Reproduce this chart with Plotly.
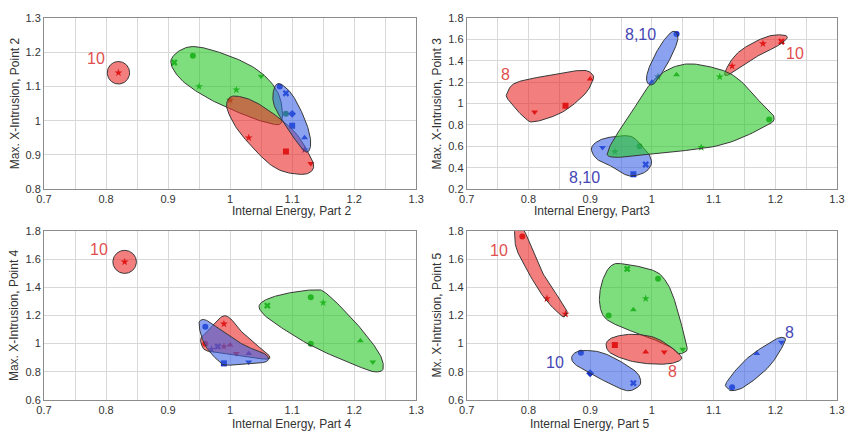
import numpy as np
import plotly.graph_objects as go

# ---------------------------------------------------------------------------
# Data: internal energy (x) vs. max. intrusion (y) for each design, by cluster
# ---------------------------------------------------------------------------

# Panel A  -  Part 2 / Point 2
A_RED1_X = [0.82]
A_RED1_Y = [1.14]
A_GREEN_X = [0.91, 0.94, 0.95, 1.01, 1.05]
A_GREEN_Y = [1.17, 1.19, 1.10, 1.09, 1.13]
A_GREEN_LOOSE_X = [1.09]
A_GREEN_LOOSE_Y = [1.02]
A_RED2_X = [1.00, 1.03, 1.09, 1.13]
A_RED2_Y = [1.06, 0.95, 0.91, 0.875]
A_BLUE_X = [1.08, 1.09, 1.10, 1.10, 1.12, 1.12]
A_BLUE_Y = [1.10, 1.08, 1.02, 0.985, 0.95, 0.915]

# Panel B  -  Part 3 / Point 3
B_RED8_X = [0.81, 0.86, 0.90]
B_RED8_Y = [0.92, 0.98, 1.23]
B_RED10_X = [1.13, 1.18, 1.21]
B_RED10_Y = [1.35, 1.56, 1.58]
B_BLUE_TOP_X = [1.04, 1.00]
B_BLUE_TOP_Y = [1.65, 1.20]
B_BLUE_LOW_X = [0.92, 0.97, 0.99]
B_BLUE_LOW_Y = [0.59, 0.34, 0.43]
B_GREEN_X = [0.94, 0.98, 1.01, 1.04, 1.11, 1.19, 1.08]
B_GREEN_Y = [0.55, 0.60, 1.25, 1.27, 1.25, 0.85, 0.59]

# Panel C  -  Part 4 / Point 4
C_RED1_X = [0.83]
C_RED1_Y = [1.58]
C_GREEN_X = [1.06, 1.13, 1.15, 1.13, 1.21, 1.23]
C_GREEN_Y = [1.27, 1.33, 1.29, 1.00, 1.02, 0.87]
C_RED_X = [0.99, 0.96, 0.99, 1.00, 1.01]
C_RED_Y = [1.14, 1.00, 0.98, 0.99, 0.93]
C_BLUE_X = [0.96, 0.97, 0.98, 0.99, 1.03, 1.03]
C_BLUE_Y = [1.12, 0.96, 0.98, 0.86, 0.93, 0.87]

# Panel D  -  Part 5 / Point 5
D_RED10_X = [0.79, 0.83, 0.86]
D_RED10_Y = [1.76, 1.32, 1.21]
D_GREEN_X = [0.96, 1.01, 0.99, 0.97, 0.93, 1.05]
D_GREEN_Y = [1.53, 1.46, 1.32, 1.24, 1.20, 0.96]
D_RED8_X = [0.94, 0.99, 1.02]
D_RED8_Y = [0.99, 0.94, 0.94]
D_BLUE10_X = [0.885, 0.90, 0.97]
D_BLUE10_Y = [0.935, 0.79, 0.72]
D_BLUE8_X = [1.13, 1.17, 1.21]
D_BLUE8_Y = [0.69, 0.93, 1.01]

# Cluster envelopes (closed outlines in data units, smoothed when drawn)
A_GREEN_HULL = [(0.905, 1.178), (0.936, 1.216), (0.99, 1.195), (1.045, 1.147),
                (1.078, 1.078), (1.083, 0.996), (1.060, 0.994), (1.016, 1.022),
                (0.962, 1.068), (0.920, 1.122)]
A_RED2_HULL = [(0.995, 1.055), (1.008, 1.072), (1.045, 1.05), (1.10, 0.975),
               (1.128, 0.90), (1.134, 0.86), (1.115, 0.843), (1.07, 0.865),
               (1.02, 0.955), (0.998, 1.02)]
A_BLUE_HULL = [(1.079, 1.108), (1.100, 1.076), (1.122, 0.997), (1.130, 0.935),
               (1.122, 0.909), (1.098, 0.962), (1.072, 1.040), (1.070, 1.088)]

B_RED8_HULL = [(0.765, 1.09), (0.778, 1.19), (0.82, 1.25), (0.885, 1.31),
               (0.904, 1.27), (0.903, 1.20), (0.89, 1.08), (0.855, 0.92),
               (0.812, 0.832), (0.795, 0.86), (0.768, 1.03)]
B_RED10_HULL = [(1.118, 1.282), (1.129, 1.406), (1.148, 1.514), (1.185, 1.623),
                (1.212, 1.642), (1.219, 1.61), (1.201, 1.53), (1.174, 1.453),
                (1.142, 1.328), (1.124, 1.267)]
B_BLUE_TOP_HULL = [(1.034, 1.675), (1.042, 1.60), (1.027, 1.391), (1.004, 1.189),
                   (0.992, 1.205), (0.995, 1.328), (1.014, 1.546)]
B_BLUE_LOW_HULL = [(0.902, 0.575), (0.912, 0.647), (0.934, 0.687), (0.966, 0.693),
                   (0.984, 0.60), (0.996, 0.52), (0.999, 0.43), (0.987, 0.352),
                   (0.962, 0.325), (0.94, 0.399), (0.912, 0.476)]
B_GREEN_HULL = [(0.935, 0.50), (1.00, 0.53), (1.11, 0.61), (1.185, 0.79),
                (1.198, 0.87), (1.185, 0.95), (1.14, 1.23), (1.10, 1.335),
                (1.05, 1.365), (1.005, 1.23), (0.965, 0.90), (0.932, 0.60)]

C_GREEN_HULL = [(1.047, 1.271), (1.061, 1.318), (1.093, 1.358), (1.135, 1.381),
                (1.156, 1.353), (1.204, 1.141), (1.239, 0.941), (1.247, 0.835),
                (1.239, 0.80), (1.215, 0.824), (1.135, 0.976), (1.077, 1.13),
                (1.053, 1.212)]
C_RED_HULL = [(0.986, 1.19), (1.0, 1.18), (1.015, 1.10), (1.04, 1.00),
              (1.062, 0.92), (1.06, 0.89), (1.03, 0.905), (0.99, 0.93),
              (0.962, 0.95), (0.954, 0.99), (0.953, 1.04), (0.962, 1.08)]
C_BLUE_HULL = [(0.952, 1.165), (0.962, 1.165), (0.986, 1.094), (1.023, 0.988),
               (1.05, 0.941), (1.061, 0.906), (1.058, 0.871), (1.034, 0.859),
               (0.997, 0.847), (0.986, 0.859), (0.965, 0.953), (0.954, 1.047),
               (0.95, 1.13)]

D_RED10_HULL = [(0.779, 1.81), (0.792, 1.81), (0.821, 1.518), (0.859, 1.259),
                (0.861, 1.212), (0.853, 1.20), (0.821, 1.353), (0.784, 1.635),
                (0.778, 1.753)]
D_GREEN_HULL = [(0.934, 1.553), (0.955, 1.565), (1.003, 1.518), (1.022, 1.447),
                (1.035, 1.329), (1.049, 1.118), (1.057, 0.976), (1.054, 0.941),
                (1.043, 0.93), (1.03, 0.976), (0.993, 1.047), (0.95, 1.118),
                (0.923, 1.188), (0.915, 1.306), (0.92, 1.447)]
D_RED8_HULL = [(0.926, 1.0), (0.939, 1.047), (0.971, 1.066), (1.009, 1.035),
               (1.046, 0.918), (1.041, 0.871), (1.014, 0.854), (0.971, 0.871),
               (0.934, 0.93)]
D_BLUE10_HULL = [(0.871, 0.914), (0.886, 0.95), (0.923, 0.930), (0.971, 0.812),
                 (0.982, 0.73), (0.974, 0.683), (0.955, 0.671), (0.907, 0.772),
                 (0.875, 0.855)]
D_BLUE8_HULL = [(1.124, 0.678), (1.121, 0.725), (1.153, 0.89), (1.196, 1.02),
                (1.212, 1.044), (1.215, 1.009), (1.191, 0.843), (1.153, 0.702),
                (1.132, 0.666)]

# ---------------------------------------------------------------------------
# Styling
# ---------------------------------------------------------------------------
FONT = "Liberation Sans, Arial, sans-serif"
FILL = {"red": "rgba(235,40,40,0.6)", "green": "rgba(40,200,40,0.6)",
        "blue": "rgba(60,100,230,0.6)"}
MARK = {"red": "#d00000", "green": "#1f9a1f", "blue": "#1530c8"}
LABEL = {"red": "#e05050", "blue": "#4646b4"}
EDGE = "#383838"
TXT = "#333333"


def oval(cx, cy, rx, ry, n=12):
    a = np.linspace(0, 2 * np.pi, n, endpoint=False)
    return list(zip(cx + rx * np.cos(a), cy + ry * np.sin(a)))


def smooth_closed(pts, n=16):
    """Closed Catmull-Rom curve through the outline vertices."""
    P = np.asarray(pts, float)
    m = len(P)
    t = np.linspace(0, 1, n, endpoint=False)[:, None]
    segs = []
    for i in range(m):
        p0, p1, p2, p3 = P[i - 1], P[i], P[(i + 1) % m], P[(i + 2) % m]
        segs.append(0.5 * (2 * p1 + (-p0 + p2) * t
                           + (2 * p0 - 5 * p1 + 4 * p2 - p3) * t ** 2
                           + (-p0 + 3 * p1 - 3 * p2 + p3) * t ** 3))
    out = np.vstack(segs + [P[:1]])
    return out[:, 0], out[:, 1]


A_RED1_HULL = oval(A_RED1_X[0], A_RED1_Y[0], 0.018, 0.033)
C_RED1_HULL = oval(C_RED1_X[0], C_RED1_Y[0], 0.019, 0.082)

# panel -> (markers, envelopes in drawing order, labels)
PANELS = [
    ("", [
        (A_RED1_X, A_RED1_Y, "red", ["star"]),
        (A_GREEN_X, A_GREEN_Y, "green", ["x", "circle", "star", "star", "triangle-down"]),
        (A_GREEN_LOOSE_X, A_GREEN_LOOSE_Y, "green", ["circle"]),
        (A_RED2_X, A_RED2_Y, "red", ["star", "star", "square", "triangle-down"]),
        (A_BLUE_X, A_BLUE_Y, "blue", ["circle", "x", "diamond", "square", "triangle-up", "star"]),
    ], [
        (A_RED1_HULL, "red"), (A_GREEN_HULL, "green"),
        (A_RED2_HULL, "red"), (A_BLUE_HULL, "blue"),
    ], [
        ("10", 0.784, 1.181, "red"),
    ]),
    ("2", [
        (B_RED8_X, B_RED8_Y, "red", ["triangle-down", "square", "triangle-up"]),
        (B_RED10_X, B_RED10_Y, "red", ["star", "star", "x"]),
        (B_BLUE_TOP_X, B_BLUE_TOP_Y, "blue", ["circle", "triangle-up"]),
        (B_BLUE_LOW_X, B_BLUE_LOW_Y, "blue", ["triangle-down", "square", "x"]),
        (B_GREEN_X, B_GREEN_Y, "green", ["star", "circle", "star", "triangle-up", "star", "circle", "star"]),
    ], [
        (B_RED8_HULL, "red"), (B_RED10_HULL, "red"), (B_BLUE_LOW_HULL, "blue"),
        (B_GREEN_HULL, "green"), (B_BLUE_TOP_HULL, "blue"),
    ], [
        ("8", 0.763, 1.272, "red"), ("10", 1.232, 1.468, "red"),
        ("8,10", 0.981, 1.648, "blue"), ("8,10", 0.891, 0.31, "blue"),
    ]),
    ("3", [
        (C_RED1_X, C_RED1_Y, "red", ["star"]),
        (C_GREEN_X, C_GREEN_Y, "green", ["x", "circle", "star", "circle", "triangle-up", "triangle-down"]),
        (C_RED_X, C_RED_Y, "red", ["star", "circle", "star", "triangle-up", "triangle-down"]),
        (C_BLUE_X, C_BLUE_Y, "blue", ["circle", "star", "x", "square", "triangle-up", "triangle-down"]),
    ], [
        (C_RED1_HULL, "red"), (C_GREEN_HULL, "green"),
        (C_RED_HULL, "red"), (C_BLUE_HULL, "blue"),
    ], [
        ("10", 0.789, 1.671, "red"),
    ]),
    ("4", [
        (D_RED10_X, D_RED10_Y, "red", ["circle", "star", "star"]),
        (D_GREEN_X, D_GREEN_Y, "green", ["x", "circle", "star", "triangle-up", "circle", "triangle-down"]),
        (D_RED8_X, D_RED8_Y, "red", ["square", "triangle-up", "triangle-down"]),
        (D_BLUE10_X, D_BLUE10_Y, "blue", ["circle", "diamond", "x"]),
        (D_BLUE8_X, D_BLUE8_Y, "blue", ["circle", "triangle-up", "triangle-down"]),
    ], [
        (D_RED10_HULL, "red"), (D_GREEN_HULL, "green"), (D_RED8_HULL, "red"),
        (D_BLUE10_HULL, "blue"), (D_BLUE8_HULL, "blue"),
    ], [
        ("10", 0.753, 1.663, "red"), ("10", 0.843, 0.867, "blue"),
        ("8", 1.034, 0.80, "red"), ("8", 1.223, 1.08, "blue"),
    ]),
]

X_TITLES = ["Internal Energy, Part 2", "Internal Energy, Part3",
            "Internal Energy, Part 4", "Internal Energy, Part 5"]
Y_TITLES = ["Max. X-Intrusion, Point 2", "Max. X-Intrusion, Point 3",
            "Max. X-Intrusion, Point 4", "Mx. X-Intrusion, Point 5"]
Y_RANGES = [(0.8, 1.3, 0.1), (0.2, 1.8, 0.2), (0.6, 1.8, 0.2), (0.6, 1.8, 0.2)]
X_DOMAINS = [(0.0, 0.4694), (0.5331, 1.0), (0.0, 0.4694), (0.5331, 1.0)]
Y_DOMAINS = [(0.5521, 1.0), (0.5521, 1.0), (0.0, 0.4427), (0.0, 0.4427)]
# axis-title placement in paper units (x title row, y title column)
X_TITLE_Y = [0.4948, 0.4948, -0.0625, -0.0625]
Y_TITLE_X = [-0.037, 0.4956, -0.037, 0.4956]

fig = go.Figure()
annotations = []

for k, (sfx, groups, hulls, labels) in enumerate(PANELS):
    xa, ya = "x" + sfx, "y" + sfx
    # design points (under the translucent envelopes)
    for xs, ys, col, syms in groups:
        fig.add_trace(go.Scatter(
            x=xs, y=ys, mode="markers", xaxis=xa, yaxis=ya, showlegend=False,
            marker=dict(color=MARK[col], size=6, symbol=syms, line=dict(width=0)),
            hoverinfo="x+y"))
    # cluster envelopes
    for pts, col in hulls:
        hx, hy = smooth_closed(pts)
        fig.add_trace(go.Scatter(
            x=hx, y=hy, mode="lines", fill="toself", fillcolor=FILL[col],
            line=dict(color=EDGE, width=1), xaxis=xa, yaxis=ya,
            showlegend=False, hoverinfo="skip"))
    for txt, tx, ty, col in labels:
        annotations.append(dict(
            text=txt, x=tx, y=ty, xref=xa, yref=ya, showarrow=False,
            font=dict(family=FONT, size=16, color=LABEL[col])))

    # axis titles
    xd, yd = X_DOMAINS[k], Y_DOMAINS[k]
    annotations.append(dict(
        text=X_TITLES[k], x=(xd[0] + xd[1]) / 2, y=X_TITLE_Y[k],
        xref="paper", yref="paper", showarrow=False, yanchor="middle",
        font=dict(family=FONT, size=12, color=TXT)))
    annotations.append(dict(
        text=Y_TITLES[k], x=Y_TITLE_X[k], y=(yd[0] + yd[1]) / 2,
        xref="paper", yref="paper", showarrow=False, textangle=-90,
        xanchor="center", yanchor="middle",
        font=dict(family=FONT, size=12, color=TXT)))

    y0, y1, dy = Y_RANGES[k]
    axis_common = dict(showline=True, mirror=True, linecolor="#8c8c8c",
                       linewidth=1, gridcolor="#d8d8d8", gridwidth=1,
                       zeroline=False, ticks="",
                       tickfont=dict(family=FONT, size=11, color=TXT))
    key = "" if k == 0 else str(k + 1)
    fig.layout["xaxis" + key] = dict(
        domain=xd, anchor=ya, range=[0.7, 1.3], tick0=0.7, dtick=0.1,
        ticklabelstandoff=0,
        minor=dict(dtick=0.05, showgrid=True, gridcolor="#d8d8d8"),
        **axis_common)
    fig.layout["yaxis" + key] = dict(
        domain=yd, anchor=xa, range=[y0, y1], tick0=y0, dtick=dy,
        **axis_common)

fig.update_layout(
    width=857, height=431,
    margin=dict(l=44, r=12, t=16, b=31),
    paper_bgcolor="white", plot_bgcolor="white",
    font=dict(family=FONT, size=12, color=TXT),
    annotations=annotations,
)

fig.write_html("out.html")
